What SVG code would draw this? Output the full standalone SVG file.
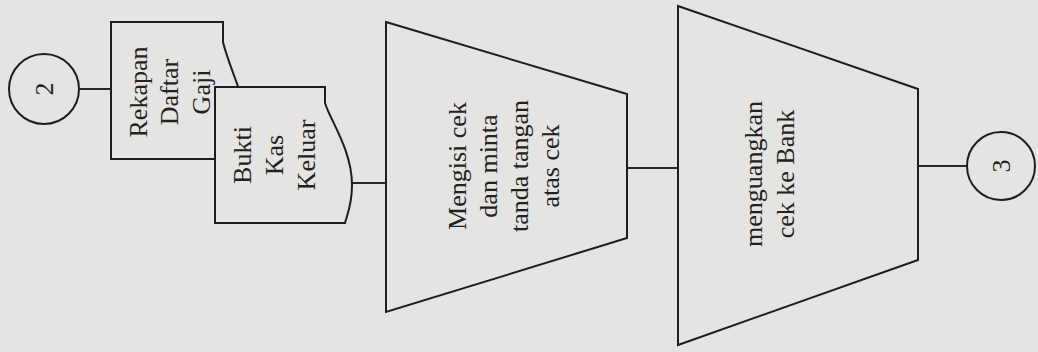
<svg xmlns="http://www.w3.org/2000/svg" width="1038" height="352" viewBox="0 0 1038 352">
<style>
.bg{fill:#e4e4e2}
.sh{fill:#e4e4e2;stroke:#1e1c22;stroke-width:2;stroke-linejoin:miter}
.ln{stroke:#2a2330;stroke-width:2;fill:none}
.t{font-family:"Liberation Serif","Times New Roman",serif;font-size:26px;fill:#222;text-anchor:middle}
</style>
<rect class="bg" x="0" y="0" width="1038" height="352"/>
<g id="connectors">
<line class="ln" x1="79" y1="89" x2="111" y2="89"/>
<line class="ln" x1="352" y1="183" x2="386" y2="183"/>
<line class="ln" x1="627" y1="168" x2="678" y2="168"/>
<line class="ln" x1="918" y1="166" x2="967" y2="166"/>
</g>
<g id="conn2">
<circle class="sh" cx="44" cy="89" r="35"/>
<text class="t" transform="translate(53,89) rotate(-90)">2</text>
</g>
<g id="doc-rekapan">
<path class="sh" d="M111,22 H223 V42 C226,55 234,75 240,92 C246,112 246,140 238,159 H111 Z"/>
<text class="t" transform="translate(147,92) rotate(-90)">Rekapan</text>
<text class="t" transform="translate(178,92) rotate(-90)">Daftar</text>
<text class="t" transform="translate(210,92) rotate(-90)">Gaji</text>
</g>
<g id="doc-bukti">
<path class="sh" d="M215,87 H325 V103 C330,120 352,150 352,185 C352,205 347,215 345,223 H215 Z"/>
<text class="t" transform="translate(251,155) rotate(-90)">Bukti</text>
<text class="t" transform="translate(283,155) rotate(-90)">Kas</text>
<text class="t" transform="translate(315,155) rotate(-90)">Keluar</text>
</g>
<g id="manual-mengisi">
<path class="sh" d="M386,22 L627,94 L627,238 L386,312 Z"/>
<text class="t" transform="translate(466,166) rotate(-90)">Mengisi cek</text>
<text class="t" transform="translate(497,166) rotate(-90)">dan minta</text>
<text class="t" transform="translate(528,166) rotate(-90)">tanda tangan</text>
<text class="t" transform="translate(559,166) rotate(-90)">atas cek</text>
</g>
<g id="manual-menguangkan">
<path class="sh" d="M678,6 L918,89 L918,260 L678,345 Z"/>
<text class="t" transform="translate(762,174) rotate(-90)">menguangkan</text>
<text class="t" transform="translate(794,174) rotate(-90)">cek ke Bank</text>
</g>
<g id="conn3">
<circle class="sh" cx="1001" cy="166" r="34"/>
<text class="t" transform="translate(1010,166) rotate(-90)">3</text>
</g>
</svg>
